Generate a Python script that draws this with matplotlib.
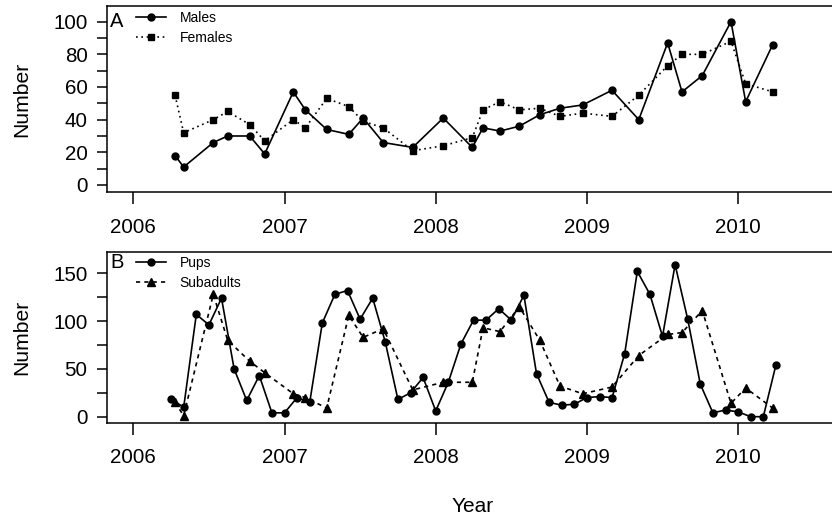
import matplotlib
matplotlib.use('Agg')
import matplotlib.pyplot as plt
import pandas as pd

plt.rcParams['font.family'] = ['Liberation Sans', 'DejaVu Sans']

# survey dates (decimal year) for the adult / subadult counts
survey_dates = [2006.276, 2006.333, 2006.529, 2006.624, 2006.770, 2006.869,
                2007.058, 2007.138, 2007.279, 2007.425, 2007.520, 2007.653, 2007.848,
                2008.050, 2008.242, 2008.313, 2008.425, 2008.553, 2008.688, 2008.822, 2008.972,
                2009.166, 2009.343, 2009.534, 2009.629, 2009.763, 2009.953,
                2010.050, 2010.229]
males = [18, 11, 26, 30, 30, 19, 57, 46, 34, 31, 41, 26, 23,
         41, 23, 35, 33, 36, 43, 47, 49, 58, 40, 87, 57, 67, 100, 51, 86]
females = [55, 32, 40, 45, 37, 27, 40, 35, 53, 48, 39, 35, 21,
           24, 29, 46, 51, 46, 47, 42, 44, 42, 55, 73, 80, 80, 88, 62, 57]
subadults = [15, 1, 128, 80, 58, 46, 24, 20, 9, 106, 83, 92, 28,
             36, 36, 93, 89, 115, 80, 32, 24, 31, 64, 86, 88, 111, 14, 30, 9]

# monthly pup counts, April 2006 to April 2010
pup_months = pd.period_range('2006-04', '2010-04', freq='M')
pups = [18, 10, 107, 96, 124, 50, 17, 43, 4, 4, 20, 15,
        98, 128, 132, 102, 124, 78, 18, 25, 41, 6, 36, 76,
        101, 101, 113, 101, 127, 45, 15, 12, 13, 20, 21, 20,
        66, 152, 128, 84, 159, 102, 34, 4, 7, 5, 0, 0, 54]
pup_x = pup_months.year + (pup_months.month - 1) / 12

year_ticks = [2006, 2007, 2008, 2009, 2010]

fig = plt.figure(figsize=(8.32, 5.18), dpi=100)
ax1 = fig.add_axes([107/832, 1-192/518, 725/832, 186/518])
ax2 = fig.add_axes([107/832, 1-422.7/518, 725/832, 171/518])

fs = 14.8

def style(ax, yticks, ylabels, ylim):
    for s in ['top', 'left', 'bottom']:
        ax.spines[s].set_linewidth(1.1)
    ax.spines['right'].set_visible(False)
    ax.set_xlim(2005.826, 2010.621)
    ax.set_ylim(*ylim)
    ax.set_xticks(year_ticks)
    ax.set_xticklabels([str(y) for y in year_ticks], fontsize=fs)
    ax.set_yticks(yticks)
    ax.set_yticklabels(ylabels, fontsize=fs)
    ax.tick_params(axis='x', direction='out', length=8.5, width=1.1, pad=10)
    ax.tick_params(axis='y', direction='out', length=7.5, width=1.1, pad=6.5)

# panel A
ax1.plot(survey_dates, males, '-', color='black', lw=1.2, marker='o', ms=5, label='Males')
ax1.plot(survey_dates, females, color='black', lw=1.2, ls=(0, (1, 2.2)), marker='s', ms=5, label='Females')
style(ax1, list(range(0, 101, 10)),
      [str(v) if v % 20 == 0 else '' for v in range(0, 101, 10)], (-4.3, 109.6))
ax1.text(0.004, 0.889, 'A', transform=ax1.transAxes, fontsize=14.5, va='baseline', ha='left')
ax1.legend(loc='upper left', bbox_to_anchor=(0.04, 0.974), frameon=False, fontsize=10,
           handlelength=2.15, handletextpad=1.0, labelspacing=0.45, borderpad=0, borderaxespad=0)

# panel B
ax2.plot(pup_x, pups, '-', color='black', lw=1.2, marker='o', ms=5, label='Pups')
ax2.plot(survey_dates, subadults, color='black', lw=1.2, ls=(0, (2.5, 2.5)), marker='^', ms=5.6, label='Subadults')
style(ax2, list(range(0, 151, 25)),
      [str(v) if v % 50 == 0 else '' for v in range(0, 151, 25)], (-6.3, 172.6))
ax2.text(0.004, 0.903, 'B', transform=ax2.transAxes, fontsize=14.5, va='baseline', ha='left')
ax2.legend(loc='upper left', bbox_to_anchor=(0.04, 0.975), frameon=False, fontsize=10,
           handlelength=2.15, handletextpad=1.0, labelspacing=0.45, borderpad=0, borderaxespad=0)

fig.text(21.7/832, 1-99/518, 'Number', rotation=90, fontsize=15.2, ha='center', va='center')
fig.text(21.7/832, 1-337/518, 'Number', rotation=90, fontsize=15.2, ha='center', va='center')
fig.text(473/832, 1-511.7/518, 'Year', fontsize=15, ha='center', va='baseline')

fig.savefig('out.png', dpi=100, facecolor='white')
